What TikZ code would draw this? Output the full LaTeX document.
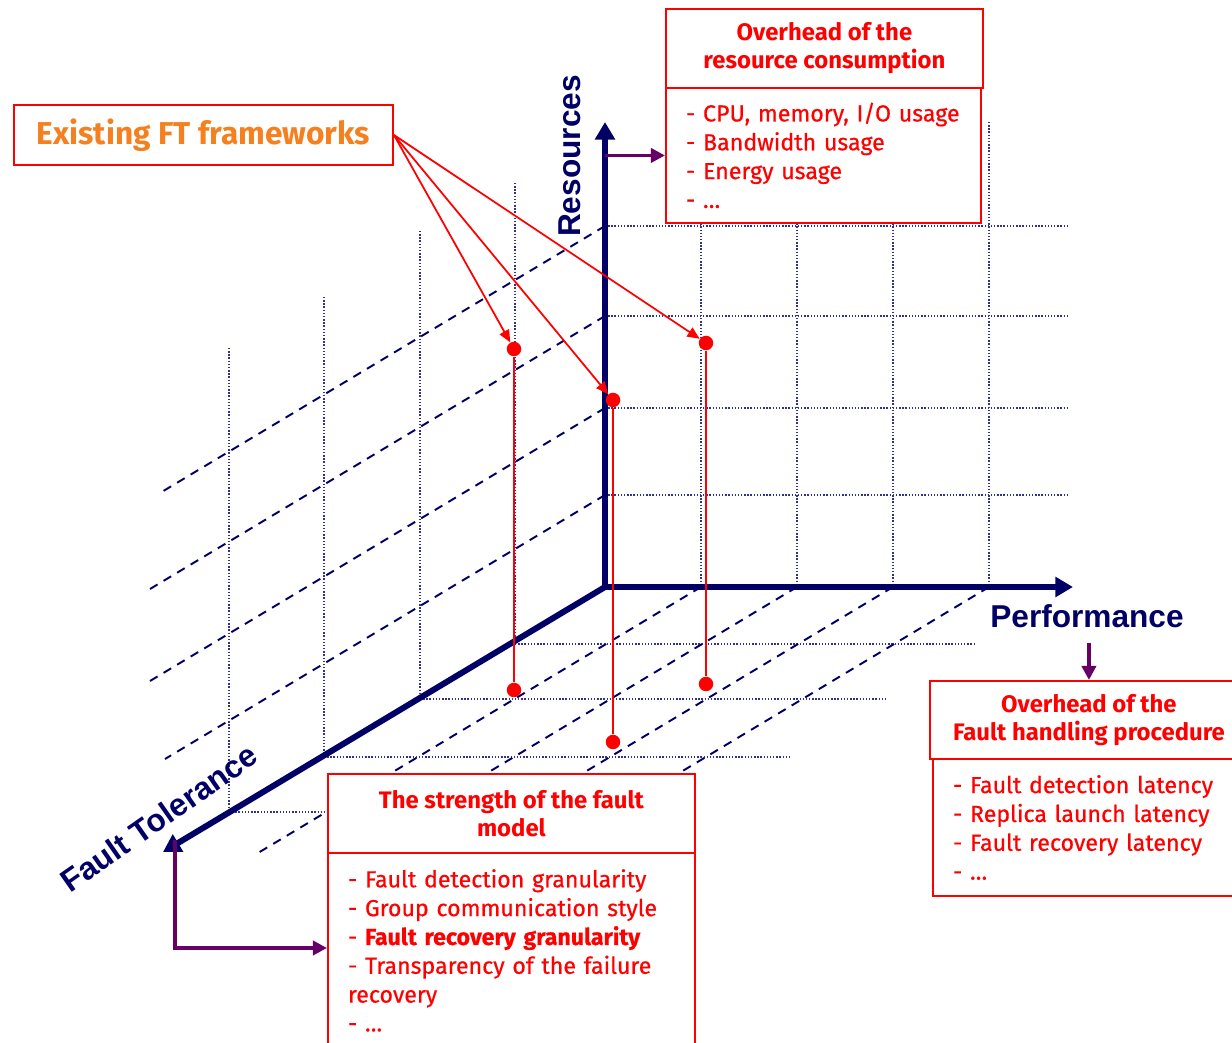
\documentclass[tikz,border=0pt]{standalone}
\usepackage{fontspec}
\setmainfont{Fira Sans}
\newfontfamily\listfont{Fira Sans}[FakeBold=0.6]
\newfontfamily\axisfont{Liberation Sans}
\usetikzlibrary{arrows.meta,positioning}

\definecolor{axisblue}{RGB}{0,0,102}
\definecolor{gridblue}{RGB}{50,50,140}
\definecolor{ftorange}{RGB}{245,128,32}
\definecolor{linkpurple}{RGB}{102,0,102}

\begin{document}
\begin{tikzpicture}
[
x=0.02cm, y=-0.02cm,
axis/.style={draw=axisblue, line width=3.4pt},
gridline/.style={draw=gridblue, line width=0.7pt, dash pattern=on 0.8pt off 1pt},
depthline/.style={draw=axisblue, line width=1.1pt, dash pattern=on 5pt off 4pt},
dot/.style={circle, fill=red, inner sep=0pt, minimum size=0.29cm},
redline/.style={draw=red, line width=1pt},
redarrow/.style={draw=red, line width=1pt, -{Triangle[length=7pt,width=6pt]}},
linkarrow/.style={draw=linkpurple, line width=2.2pt, -{Triangle[length=8pt,width=8pt]}},
axislabel/.style={text=axisblue, font=\axisfont\fontsize{18}{20}\selectfont\bfseries},
]
\tikzset{
  hdr/.style={draw=red, line width=1.1pt, fill=white, anchor=north west, inner sep=0pt,
    align=center, text=red, font=\fontsize{13.6}{16}\selectfont\bfseries},
  lst/.style={draw=red, line width=1.1pt, fill=white, anchor=north west, inner xsep=0.4cm,
    inner ysep=0pt, align=left, text=red, font=\listfont\fontsize{13.2}{16.4}\selectfont}
}
\useasboundingbox (0,0) rectangle (1232,1043);
\clip (0,0) rectangle (1232,1043);

\coordinate (O) at (605,587);
\coordinate (Rtip) at (605,122);
\coordinate (Ptip) at (1073,587);
\coordinate (Ftip) at (163,852);

% back wall
\foreach \y in {226,316,408,495}
  \draw[gridline] (605,\y) -- (1068,\y);
\foreach \x in {701,797,893,989}
  \draw[gridline] (\x,122) -- (\x,587);
% side wall
\foreach \y/\xe in {226/162,316/150,408/150,495/165}
  \draw[depthline] (605,\y) -- (\xe,{\y+0.6*(605-\xe)});
\foreach \x/\yt/\yb in {515/183/644,420/231/699,324/297/757,229/348/812}
  \draw[gridline] (\x,\yt) -- (\x,\yb);
% floor
\foreach \x/\y/\xe in {515/644/975,420/699/887,324/757/790,229/812/690}
  \draw[gridline] (\x,\y) -- (\xe,\y);
\foreach \x in {701,797,893,989}
  \draw[depthline] (\x,587) -- ({\x-443},853);

\draw[axis, {Triangle[length=10pt,width=11pt]}-{Triangle[length=10pt,width=11pt]}] (Rtip) -- (O) -- (Ptip);
\draw[axis, -{Triangle[length=10pt,width=11pt]}] (O) -- (Ftip);

\node[axislabel, rotate=90] (res) at (570,156) {Resources};
\node[axislabel] (perf) at (1087,616) {Performance};
\node[axislabel, rotate=35] (ft) at (159,818) {Fault Tolerance};

\node[dot] (fwA) at (514,349) {};
\node[dot] (fwB) at (613,400) {};
\node[dot] (fwC) at (706,343) {};
\node[dot] (flA) at (514,690) {};
\node[dot] (flB) at (613,742) {};
\node[dot] (flC) at (706,684) {};
\draw[redline] (fwA) -- (flA);
\draw[redline] (fwB) -- (flB);
\draw[redline] (fwC) -- (flC);

\node[draw=red, line width=1.1pt, minimum width=7.58cm, minimum height=1.2cm, inner sep=0pt,
  text=ftorange, font=\fontsize{18}{22}\selectfont\bfseries] (exist) at (203.5,135) {Existing FT frameworks};
\draw[redarrow] (exist.east) -- (fwA);
\draw[redarrow] (exist.east) -- (fwB);
\draw[redarrow] (exist.east) -- (fwC);

\node[hdr, minimum width=6.34cm, minimum height=1.58cm] (resH) at (665,8) {Overhead of the\\resource consumption};
\node[lst, text width=5.5cm, minimum height=2.7cm] (resB) at (665,87)
  {- CPU, memory, I/O usage\\- Bandwidth usage\\- Energy usage\\- \ldots};

\node[hdr, minimum width=6.36cm, minimum height=1.56cm] (fhH) at (929,680) {Overhead of the\\Fault handling procedure};
\node[lst, text width=5.44cm, minimum height=2.74cm] (fhB) at (932,758)
  {- Fault detection latency\\- Replica launch latency\\- Fault recovery latency\\- \ldots};

\node[hdr, minimum width=7.34cm, minimum height=1.58cm] (fmH) at (327,773) {The strength of the fault\\model};
\node[lst, text width=6.54cm, minimum height=3.9cm] (fmB) at (327,852)
  {- Fault detection granularity\\- Group communication style\\- \textbf{Fault recovery granularity}\\- Transparency of the failure\\recovery\\- \ldots};

\coordinate (ftfoot) at (175,840);
\coordinate (ftturn) at (175,948);
\draw[linkarrow] (Rtip |- resB.west) -- (resB.west);
\draw[linkarrow] (fhH.north |- 0,643) -- (fhH.north);
\draw[linkarrow] (ftfoot) -- (ftturn) -- (ftturn -| fmB.west);
\end{tikzpicture}
\end{document}
